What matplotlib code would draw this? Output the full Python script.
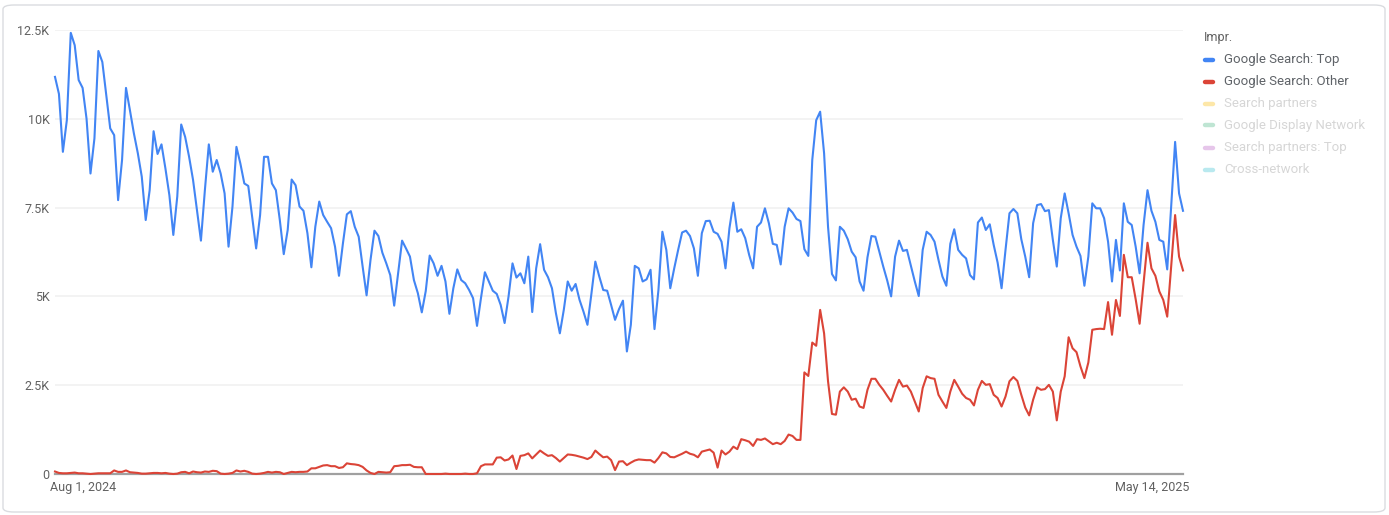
import matplotlib
matplotlib.use("Agg")
import matplotlib.pyplot as plt
from matplotlib.patches import FancyBboxPatch
from matplotlib.lines import Line2D
from matplotlib.transforms import ScaledTranslation
import numpy as np
import pandas as pd

plt.rcParams['font.family'] = ['Roboto', 'DejaVu Sans']

# daily impressions, Aug 1 2024 .. May 14 2025 (thousands)
dates = pd.date_range("2024-08-01", "2025-05-14", freq="D")

top_k = [
    11.18, 10.7, 9.07, 9.96, 12.42, 12.07, 11.09, 10.87, 10.0, 8.46,
    9.45, 11.91, 11.6, 10.67, 9.73, 9.54, 7.71, 8.84, 10.87, 10.24,
    9.59, 9.03, 8.37, 7.15, 7.99, 9.65, 9.01, 9.28, 8.6, 7.85,
    6.73, 7.81, 9.84, 9.49, 8.93, 8.28, 7.43, 6.57, 7.99, 9.28,
    8.51, 8.84, 8.46, 7.9, 6.4, 7.53, 9.21, 8.74, 8.18, 8.11,
    7.24, 6.35, 7.29, 8.93, 8.93, 8.18, 7.99, 7.15, 6.19, 6.87,
    8.29, 8.13, 7.53, 7.41, 6.78, 5.82, 6.96, 7.67, 7.29, 7.1,
    6.92, 6.4, 5.58, 6.49, 7.31, 7.4, 6.96, 6.68, 5.84, 5.03,
    6.03, 6.85, 6.7, 6.23, 5.93, 5.6, 4.74, 5.65, 6.57, 6.35,
    6.12, 5.46, 5.09, 4.55, 5.15, 6.15, 5.93, 5.58, 5.86, 5.42,
    4.51, 5.23, 5.76, 5.46, 5.37, 5.18, 4.95, 4.17, 4.95, 5.68,
    5.42, 5.16, 5.07, 4.76, 4.25, 5.0, 5.93, 5.53, 5.65, 5.37,
    6.12, 4.56, 5.79, 6.47, 5.75, 5.54, 5.23, 4.53, 3.96, 4.62,
    5.42, 5.16, 5.35, 4.9, 4.57, 4.2, 5.07, 5.98, 5.56, 5.18,
    5.16, 4.76, 4.34, 4.64, 4.88, 3.45, 4.2, 5.86, 5.79, 5.42,
    5.48, 5.75, 4.08, 5.18, 6.82, 6.31, 5.23, 5.79, 6.31, 6.8,
    6.85, 6.7, 6.35, 5.58, 6.78, 7.12, 7.13, 6.82, 6.76, 6.54,
    5.79, 6.92, 7.64, 6.82, 6.89, 6.64, 6.17, 5.79, 6.96, 7.08,
    7.48, 7.06, 6.48, 6.45, 5.9, 6.96, 7.48, 7.36, 7.18, 7.12,
    6.33, 6.14, 8.84, 9.96, 10.2, 9.03, 6.96, 5.63, 5.45, 6.96,
    6.85, 6.61, 6.26, 6.1, 5.42, 5.16, 6.1, 6.7, 6.68, 6.26,
    5.84, 5.45, 5.0, 6.12, 6.57, 6.28, 6.31, 5.86, 5.42, 5.01,
    6.31, 6.82, 6.73, 6.54, 6.03, 5.56, 5.3, 6.48, 6.89, 6.31,
    6.17, 6.07, 5.6, 5.48, 7.08, 7.22, 6.87, 7.03, 6.45, 5.95,
    5.23, 6.31, 7.34, 7.46, 7.34, 6.61, 6.12, 5.54, 7.06, 7.57,
    7.6, 7.4, 7.43, 6.59, 5.84, 7.2, 7.9, 7.34, 6.73, 6.4,
    6.14, 5.3, 6.12, 7.62, 7.48, 7.48, 7.2, 6.54, 5.42, 6.59,
    5.73, 7.62, 7.1, 7.01, 6.4, 5.65, 7.01, 7.99, 7.41, 7.1,
    6.59, 6.54, 5.76, 7.53, 9.35, 7.9, 7.41,
]

other_k = [
    0.07, 0.03, 0.02, 0.02, 0.03, 0.04, 0.02, 0.02, 0.01, 0.0,
    0.01, 0.02, 0.02, 0.02, 0.02, 0.1, 0.06, 0.06, 0.1, 0.05,
    0.04, 0.03, 0.01, 0.01, 0.02, 0.03, 0.03, 0.02, 0.03, 0.01,
    0.0, 0.01, 0.05, 0.06, 0.02, 0.07, 0.05, 0.04, 0.07, 0.06,
    0.09, 0.08, 0.01, 0.0, 0.01, 0.03, 0.1, 0.07, 0.09, 0.06,
    0.01, 0.0, 0.01, 0.03, 0.06, 0.04, 0.06, 0.05, 0.0, 0.03,
    0.06, 0.05, 0.06, 0.06, 0.07, 0.16, 0.16, 0.2, 0.24, 0.25,
    0.22, 0.22, 0.17, 0.19, 0.3, 0.28, 0.27, 0.25, 0.2, 0.1,
    0.03, 0.0, 0.06, 0.05, 0.04, 0.05, 0.22, 0.23, 0.25, 0.25,
    0.26, 0.2, 0.19, 0.19, 0.0, 0.0, 0.0, 0.0, 0.0, 0.01,
    0.0, 0.0, 0.0, 0.0, 0.01, 0.0, 0.0, 0.02, 0.22, 0.27,
    0.27, 0.27, 0.46, 0.47, 0.38, 0.41, 0.52, 0.14, 0.51, 0.53,
    0.58, 0.44, 0.55, 0.66, 0.58, 0.51, 0.53, 0.45, 0.35, 0.45,
    0.55, 0.54, 0.52, 0.49, 0.46, 0.42, 0.48, 0.66, 0.56, 0.47,
    0.49, 0.39, 0.11, 0.35, 0.36, 0.25, 0.32, 0.38, 0.41, 0.4,
    0.39, 0.39, 0.32, 0.45, 0.61, 0.58, 0.48, 0.47, 0.52, 0.57,
    0.63, 0.57, 0.54, 0.47, 0.63, 0.66, 0.69, 0.6, 0.18, 0.66,
    0.55, 0.63, 0.77, 0.7, 0.98, 0.95, 0.91, 0.79, 0.98, 0.96,
    1.0, 0.92, 0.84, 0.88, 0.84, 0.93, 1.11, 1.07, 0.96, 0.96,
    2.86, 2.76, 3.7, 3.61, 4.62, 3.96, 2.61, 1.69, 1.67, 2.32,
    2.44, 2.32, 2.09, 2.12, 1.9, 1.86, 2.37, 2.68, 2.68, 2.51,
    2.37, 2.2, 2.04, 2.37, 2.65, 2.46, 2.49, 2.32, 2.04, 1.76,
    2.42, 2.75, 2.7, 2.68, 2.23, 2.04, 1.86, 2.32, 2.65, 2.46,
    2.26, 2.14, 2.09, 1.93, 2.37, 2.62, 2.51, 2.53, 2.23, 2.14,
    1.9, 2.18, 2.61, 2.73, 2.62, 2.23, 1.87, 1.65, 2.09, 2.44,
    2.37, 2.39, 2.51, 2.32, 1.51, 2.32, 2.75, 3.85, 3.54, 3.43,
    3.03, 2.7, 3.14, 4.06, 4.08, 4.09, 4.08, 4.84, 3.92, 4.9,
    4.45, 6.17, 5.54, 5.54, 4.92, 4.23, 5.37, 6.51, 5.79, 5.58,
    5.14, 4.9, 4.43, 5.84, 7.29, 6.12, 5.73,
]

legend_names = ["Google Search: Top", "Google Search: Other", "Search partners",
                "Google Display Network", "Search partners: Top", "Cross-network"]
legend_colors = ["#4285f4", "#db4437", "#fde7a8", "#bfe5d3", "#e6c6ea", "#b9e9ef"]
legend_active = [True, True, False, False, False, False]

y_ticks = [0, 2500, 5000, 7500, 10000, 12500]
y_labels = ["0", "2.5K", "5K", "7.5K", "10K", "12.5K"]

W, H = 1389, 515
fig = plt.figure(figsize=(W / 100, H / 100), dpi=100)

# card border, kept behind the axes
card = FancyBboxPatch((3 / W, 3 / H), (W - 7) / W, (H - 8) / H,
                      boxstyle="round,pad=0,rounding_size=0.008",
                      transform=fig.transFigure, facecolor="white",
                      edgecolor="#dadce0", linewidth=1.0, zorder=-10)
fig.patches.append(card)

ax = fig.add_axes([55 / W, 1 - 474 / H, (1183 - 55) / W, (474 - 30) / H])
ax.set_facecolor("none")

top = np.array(top_k) * 1000
other = np.array(other_k) * 1000
ax.plot(dates, top, color=legend_colors[0], lw=1.5, solid_joinstyle="round",
        zorder=3, clip_on=False)
ax.plot(dates, other, color=legend_colors[1], lw=1.5, solid_joinstyle="round",
        zorder=3, clip_on=False)

ax.set_xlim(dates[0], dates[-1])
ax.set_ylim(0, 12500)
ax.set_yticks(y_ticks)
ax.set_yticklabels(y_labels)
ax.grid(axis="y", color="#f1f1f1", lw=1.2)
ax.set_axisbelow(True)
for s in ["top", "right", "left"]:
    ax.spines[s].set_visible(False)
ax.spines["bottom"].set_color("#a0a0a0")
ax.spines["bottom"].set_linewidth(1.6)
ax.spines["bottom"].set_zorder(2)
ax.tick_params(axis="y", length=0, pad=4, labelsize=9, labelcolor="#616161")
ax.tick_params(axis="x", length=0, pad=5, labelsize=9, labelcolor="#616161")

ax.set_xticks([dates[0], dates[-1]])
ax.set_xticklabels(["Aug 1, 2024", "May 14, 2025"])
xl = ax.get_xticklabels()
xl[0].set_ha("left")
xl[0].set_transform(xl[0].get_transform() + ScaledTranslation(-5 / 100, 0, fig.dpi_scale_trans))
xl[1].set_ha("right")
xl[1].set_transform(xl[1].get_transform() + ScaledTranslation(6 / 100, 0, fig.dpi_scale_trans))

# legend on the right
fig.text(1204 / W, 1 - 37 / H, "Impr.", fontsize=9, color="#616161", va="center")
for i, (name, col, on) in enumerate(zip(legend_names, legend_colors, legend_active)):
    yy = 1 - (59.5 + 22 * i) / H
    fig.add_artist(Line2D([1205 / W, 1213 / W], [yy, yy], color=col, lw=3.2,
                          solid_capstyle="round", transform=fig.transFigure))
    fig.text(1224 / W, yy, name, fontsize=9.5, va="center",
             color="#5f6368" if on else "#d6d6d6")

fig.savefig("out.png", dpi=100)
